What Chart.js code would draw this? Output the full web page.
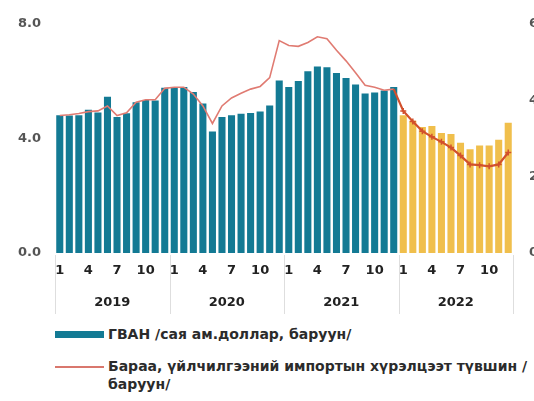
<!DOCTYPE html>
<html>
<head>
<meta charset="utf-8">
<script src="https://cdn.jsdelivr.net/npm/chart.js@4/dist/chart.umd.min.js"></script>
<style>
  html,body{margin:0;padding:0;background:#fff;width:534px;height:401px;overflow:hidden;position:relative;}
  #wrap{position:absolute;left:0;top:0;width:560px;height:320px;}
  .leg{position:absolute;font-family:"DejaVu Sans",sans-serif;font-size:14px;color:#2b2b2b;font-weight:bold;line-height:18px;white-space:nowrap;}
  .sw{position:absolute;}
</style>
</head>
<body>
<div id="wrap"><canvas id="c" width="560" height="320"></canvas></div>
<div class="sw" style="left:55px;top:331px;width:49px;height:7px;background:#137a94;"></div>
<div class="leg" style="left:108px;top:325px;">ГВАН /сая ам.доллар, баруун/</div>
<div class="sw" style="left:55px;top:366px;width:49px;height:2px;background:#d9776d;"></div>
<div class="leg" style="left:108px;top:357px;">Бараа, үйлчилгээний импортын хүрэлцээт түвшин /</div>
<div class="leg" style="left:108px;top:375px;">баруун/</div>
<script>
// ---- data ----
const years = ['2019', '2020', '2021', '2022'];
const months = ['1','2','3','4','5','6','7','8','9','10','11','12'];
const categories = years.flatMap(() => months);
const shownMonths = ['1', '4', '7', '10'];
const leftTicks = [0, 4, 8];
const rightTicks = [0, 2, 4, 6];

// Gross international reserves (bars, left axis)
const reserves = [
  4.81, 4.80, 4.81, 5.00, 4.90, 5.45, 4.75, 4.88, 5.26, 5.34, 5.32, 5.77,
  5.78, 5.79, 5.62, 5.22, 4.24, 4.75, 4.81, 4.86, 4.89, 4.94, 5.15, 6.02,
  5.79, 6.00, 6.34, 6.51, 6.48, 6.28, 6.11, 5.88, 5.57, 5.60, 5.67, 5.79,
  4.81, 4.62, 4.40, 4.43, 4.19, 4.15, 3.85, 3.62, 3.75, 3.75, 3.95, 4.55
];
// Import coverage (line, right axis)
const importCover = [
  3.60, 3.62, 3.65, 3.70, 3.72, 3.85, 3.60, 3.67, 3.95, 4.01, 4.01, 4.31,
  4.34, 4.34, 4.16, 3.85, 3.39, 3.85, 4.06, 4.18, 4.29, 4.36, 4.59, 5.56,
  5.43, 5.41, 5.51, 5.66, 5.61, 5.31, 5.03, 4.72, 4.39, 4.34, 4.26, 4.29,
  3.72, 3.44, 3.19, 3.04, 2.91, 2.76, 2.55, 2.32, 2.30, 2.27, 2.32, 2.63
];

const TEAL = '#137a94', YELLOW = '#f0bf4c', LINE1 = '#e07b72', LINE2 = '#d2502c';
const FORECAST_START = 36;
const FONT = '"DejaVu Sans", sans-serif';

const yearPlugin = {
  id: 'years',
  afterDraw(chart) {
    const x = chart.scales.x, ctx = chart.ctx, bottom = chart.chartArea.bottom;
    ctx.save();
    ctx.strokeStyle = '#dedede';
    ctx.lineWidth = 1;
    for (let k = 0; k <= years.length; k++) {
      let px;
      if (k === 0) px = x.left;
      else if (k === years.length) px = x.right;
      else px = (x.getPixelForValue(12 * k - 1) + x.getPixelForValue(12 * k)) / 2;
      px = Math.round(px) + 0.5;
      ctx.beginPath(); ctx.moveTo(px, bottom + 2); ctx.lineTo(px, 314); ctx.stroke();
    }
    ctx.fillStyle = '#222';
    ctx.font = 'bold 13px ' + FONT;
    ctx.textAlign = 'center'; ctx.textBaseline = 'middle';
    years.forEach((yr, k) => {
      const cx = (x.getPixelForValue(12 * k) + x.getPixelForValue(12 * k + 11)) / 2;
      ctx.fillText(yr, cx, 303);
    });
    ctx.restore();
  }
};

new Chart(document.getElementById('c'), {
  data: {
    labels: categories,
    datasets: [
      {
        type: 'line', label: 'import', data: importCover, yAxisID: 'y2', order: 0,
        borderWidth: 1.6, tension: 0,
        borderColor: LINE1,
        segment: { borderColor: c => c.p0DataIndex >= FORECAST_START - 1 ? LINE2 : LINE1,
                   borderWidth: c => c.p0DataIndex >= FORECAST_START - 1 ? 2.2 : 1.6 },
        pointStyle: 'cross',
        pointRadius: importCover.map((v, i) => i >= FORECAST_START ? 3 : 0),
        pointBorderColor: LINE2, pointBorderWidth: 1.5
      },
      {
        type: 'bar', label: 'reserves', data: reserves, yAxisID: 'y', order: 1,
        backgroundColor: reserves.map((v, i) => i >= FORECAST_START ? YELLOW : TEAL),
        barPercentage: 0.74, categoryPercentage: 1.0
      }
    ]
  },
  options: {
    responsive: false, animation: false, devicePixelRatio: 1,
    layout: { padding: { top: 18, left: 0, right: 0, bottom: 0 } },
    plugins: { legend: { display: false }, tooltip: { enabled: false } },
    scales: {
      x: {
        grid: { display: false, drawTicks: false }, border: { display: false },
        ticks: {
          autoSkip: false, maxRotation: 0, padding: 10, color: '#222',
          font: { family: FONT, size: 13, weight: 'bold' },
          callback: function (v) { const l = this.getLabelForValue(v); return shownMonths.includes(l) ? l : ''; }
        },
        afterFit: s => { s.height = 320 - 253; }
      },
      y: {
        position: 'left', min: 0, max: 8,
        grid: { display: false, drawTicks: false }, border: { display: false },
        afterBuildTicks: s => { s.ticks = leftTicks.map(v => ({ value: v })); },
        ticks: { padding: 14, color: '#555', font: { family: FONT, size: 13, weight: 'bold' },
                 callback: v => v.toFixed(1) },
        afterFit: s => { s.width = 55; }
      },
      y2: {
        position: 'right', min: 0, max: 6,
        grid: { display: false, drawTicks: false }, border: { display: false },
        afterBuildTicks: s => { s.ticks = rightTicks.map(v => ({ value: v })); },
        ticks: { padding: 16, color: '#555', font: { family: FONT, size: 13, weight: 'bold' },
                 callback: v => v.toFixed(1) },
        afterFit: s => { s.width = 560 - 513; }
      }
    }
  },
  plugins: [yearPlugin]
});
</script>
</body>
</html>
